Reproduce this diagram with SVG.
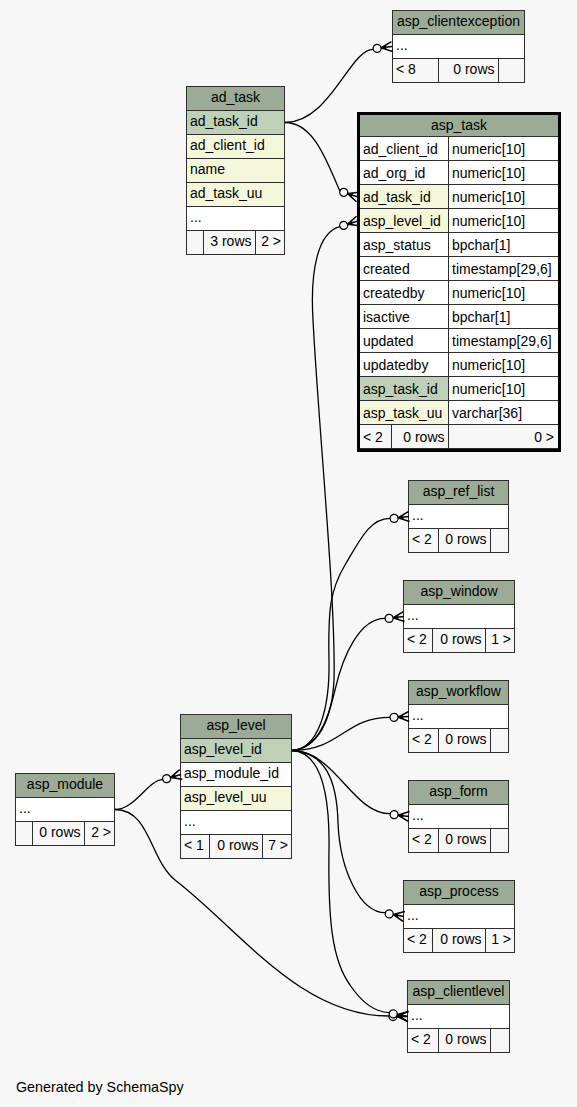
<svg xmlns="http://www.w3.org/2000/svg" width="577" height="1107" viewBox="0 0 577 1107">
<style>
text{font-family:"Liberation Sans",Arial,sans-serif;font-size:14px;fill:#000}
.c{text-anchor:middle}
.r{text-anchor:end}
rect{stroke:#2e2e2e;stroke-width:1}
.h{fill:#9bab96}
.pk{fill:#bed1b8}
.fk{fill:#f4f7da}
.w{fill:#ffffff}
.ft{fill:#f7f7f7}
.e{fill:none;stroke:#000;stroke-width:1.3}
</style>
<defs>
<g id="ah">
<path d="M0,-5 L-11,0 L0,5 M-11,0 L0,0" fill="none" stroke="#000" stroke-width="1.5"/>
<path d="M-11,0 L-5,-2.6 L-6.5,0 L-5,2.6 Z" fill="#000"/>
<circle cx="-15" cy="0" r="4" fill="#f7f7f7" stroke="#000" stroke-width="1.3"/>
</g>
</defs>
<rect x="0" y="0" width="577" height="1107" fill="#f7f7f7" style="stroke:none"/>

<g id="asp_clientexception">
<rect class="h" x="392.5" y="10.5" width="132" height="24"/>
<rect class="w" x="392.5" y="34.5" width="132" height="24"/>
<rect class="ft" x="392.5" y="58.5" width="46" height="24"/>
<rect class="ft" x="438.5" y="58.5" width="60" height="24"/>
<rect class="ft" x="498.5" y="58.5" width="26" height="24"/>
<text class="c" x="458.5" y="26">asp_clientexception</text>
<text x="396" y="50">...</text>
<text x="396" y="74">&lt; 8</text>
<text class="r" x="494.5" y="74">0 rows</text>
</g>

<g id="ad_task">
<rect class="h" x="186.5" y="86.5" width="98" height="24"/>
<rect class="pk" x="186.5" y="110.5" width="98" height="24"/>
<rect class="fk" x="186.5" y="134.5" width="98" height="24"/>
<rect class="fk" x="186.5" y="158.5" width="98" height="24"/>
<rect class="fk" x="186.5" y="182.5" width="98" height="24"/>
<rect class="w" x="186.5" y="206.5" width="98" height="24"/>
<rect class="ft" x="186.5" y="230.5" width="17" height="24"/>
<rect class="ft" x="203.5" y="230.5" width="52" height="24"/>
<rect class="ft" x="255.5" y="230.5" width="29" height="24"/>
<text class="c" x="235.5" y="102">ad_task</text>
<text x="190" y="126">ad_task_id</text>
<text x="190" y="150">ad_client_id</text>
<text x="190" y="174">name</text>
<text x="190" y="198">ad_task_uu</text>
<text x="190" y="222">...</text>
<text class="r" x="251.5" y="246">3 rows</text>
<text class="r" x="281" y="246">2 &gt;</text>
</g>

<g id="asp_task">
<rect class="h" x="359.5" y="113.5" width="199" height="23"/>
<rect class="w" x="359.5" y="136.5" width="89" height="24"/><rect class="w" x="448.5" y="136.5" width="110" height="24"/>
<rect class="w" x="359.5" y="160.5" width="89" height="24"/><rect class="w" x="448.5" y="160.5" width="110" height="24"/>
<rect class="fk" x="359.5" y="184.5" width="89" height="24"/><rect class="w" x="448.5" y="184.5" width="110" height="24"/>
<rect class="fk" x="359.5" y="208.5" width="89" height="24"/><rect class="w" x="448.5" y="208.5" width="110" height="24"/>
<rect class="w" x="359.5" y="232.5" width="89" height="24"/><rect class="w" x="448.5" y="232.5" width="110" height="24"/>
<rect class="w" x="359.5" y="256.5" width="89" height="24"/><rect class="w" x="448.5" y="256.5" width="110" height="24"/>
<rect class="w" x="359.5" y="280.5" width="89" height="24"/><rect class="w" x="448.5" y="280.5" width="110" height="24"/>
<rect class="w" x="359.5" y="304.5" width="89" height="24"/><rect class="w" x="448.5" y="304.5" width="110" height="24"/>
<rect class="w" x="359.5" y="328.5" width="89" height="24"/><rect class="w" x="448.5" y="328.5" width="110" height="24"/>
<rect class="w" x="359.5" y="352.5" width="89" height="24"/><rect class="w" x="448.5" y="352.5" width="110" height="24"/>
<rect class="pk" x="359.5" y="376.5" width="89" height="24"/><rect class="w" x="448.5" y="376.5" width="110" height="24"/>
<rect class="fk" x="359.5" y="400.5" width="89" height="24"/><rect class="w" x="448.5" y="400.5" width="110" height="24"/>
<rect class="ft" x="359.5" y="424.5" width="32" height="24"/>
<rect class="ft" x="391.5" y="424.5" width="57" height="24"/>
<rect class="ft" x="448.5" y="424.5" width="110" height="24"/>
<rect x="358.5" y="113.5" width="201" height="337" fill="none" style="stroke:#000;stroke-width:3"/>
<text class="c" x="459" y="130">asp_task</text>
<text x="363" y="153.5">ad_client_id</text><text x="452" y="153.5">numeric[10]</text>
<text x="363" y="177.5">ad_org_id</text><text x="452" y="177.5">numeric[10]</text>
<text x="363" y="201.5">ad_task_id</text><text x="452" y="201.5">numeric[10]</text>
<text x="363" y="225.5">asp_level_id</text><text x="452" y="225.5">numeric[10]</text>
<text x="363" y="249.5">asp_status</text><text x="452" y="249.5">bpchar[1]</text>
<text x="363" y="273.5">created</text><text x="452" y="273.5">timestamp[29,6]</text>
<text x="363" y="297.5">createdby</text><text x="452" y="297.5">numeric[10]</text>
<text x="363" y="321.5">isactive</text><text x="452" y="321.5">bpchar[1]</text>
<text x="363" y="345.5">updated</text><text x="452" y="345.5">timestamp[29,6]</text>
<text x="363" y="369.5">updatedby</text><text x="452" y="369.5">numeric[10]</text>
<text x="363" y="393.5">asp_task_id</text><text x="452" y="393.5">numeric[10]</text>
<text x="363" y="417.5">asp_task_uu</text><text x="452" y="417.5">varchar[36]</text>
<text x="363" y="441.5">&lt; 2</text>
<text class="r" x="444.5" y="441.5">0 rows</text>
<text class="r" x="554" y="441.5">0 &gt;</text>
</g>

<g id="asp_ref_list">
<rect class="h" x="408.5" y="480.5" width="100" height="24"/>
<rect class="w" x="408.5" y="504.5" width="100" height="24"/>
<rect class="ft" x="408.5" y="528.5" width="30" height="24"/>
<rect class="ft" x="438.5" y="528.5" width="52" height="24"/>
<rect class="ft" x="490.5" y="528.5" width="18" height="24"/>
<text class="c" x="458.5" y="496">asp_ref_list</text>
<text x="412" y="520">...</text>
<text x="412" y="544">&lt; 2</text>
<text class="r" x="486.5" y="544">0 rows</text>
</g>

<g id="asp_window">
<rect class="h" x="403.5" y="580.5" width="111" height="24"/>
<rect class="w" x="403.5" y="604.5" width="111" height="24"/>
<rect class="ft" x="403.5" y="628.5" width="29" height="24"/>
<rect class="ft" x="432.5" y="628.5" width="53" height="24"/>
<rect class="ft" x="485.5" y="628.5" width="29" height="24"/>
<text class="c" x="459" y="596">asp_window</text>
<text x="407" y="620">...</text>
<text x="407" y="644">&lt; 2</text>
<text class="r" x="481.5" y="644">0 rows</text>
<text class="r" x="511" y="644">1 &gt;</text>
</g>

<g id="asp_workflow">
<rect class="h" x="408.5" y="680.5" width="100" height="24"/>
<rect class="w" x="408.5" y="704.5" width="100" height="24"/>
<rect class="ft" x="408.5" y="728.5" width="30" height="24"/>
<rect class="ft" x="438.5" y="728.5" width="52" height="24"/>
<rect class="ft" x="490.5" y="728.5" width="18" height="24"/>
<text class="c" x="458.5" y="696">asp_workflow</text>
<text x="412" y="720">...</text>
<text x="412" y="744">&lt; 2</text>
<text class="r" x="486.5" y="744">0 rows</text>
</g>

<g id="asp_form">
<rect class="h" x="408.5" y="780.5" width="100" height="24"/>
<rect class="w" x="408.5" y="804.5" width="100" height="24"/>
<rect class="ft" x="408.5" y="828.5" width="30" height="24"/>
<rect class="ft" x="438.5" y="828.5" width="52" height="24"/>
<rect class="ft" x="490.5" y="828.5" width="18" height="24"/>
<text class="c" x="458.5" y="796">asp_form</text>
<text x="412" y="820">...</text>
<text x="412" y="844">&lt; 2</text>
<text class="r" x="486.5" y="844">0 rows</text>
</g>

<g id="asp_process">
<rect class="h" x="403.5" y="880.5" width="111" height="24"/>
<rect class="w" x="403.5" y="904.5" width="111" height="24"/>
<rect class="ft" x="403.5" y="928.5" width="29" height="24"/>
<rect class="ft" x="432.5" y="928.5" width="53" height="24"/>
<rect class="ft" x="485.5" y="928.5" width="29" height="24"/>
<text class="c" x="459" y="896">asp_process</text>
<text x="407" y="920">...</text>
<text x="407" y="944">&lt; 2</text>
<text class="r" x="481.5" y="944">0 rows</text>
<text class="r" x="511" y="944">1 &gt;</text>
</g>

<g id="asp_clientlevel">
<rect class="h" x="407.5" y="980.5" width="102" height="24"/>
<rect class="w" x="407.5" y="1004.5" width="102" height="24"/>
<rect class="ft" x="407.5" y="1028.5" width="31" height="24"/>
<rect class="ft" x="438.5" y="1028.5" width="52" height="24"/>
<rect class="ft" x="490.5" y="1028.5" width="19" height="24"/>
<text class="c" x="458.5" y="996">asp_clientlevel</text>
<text x="411" y="1020">...</text>
<text x="411" y="1044">&lt; 2</text>
<text class="r" x="486.5" y="1044">0 rows</text>
</g>

<g id="asp_level">
<rect class="h" x="180.5" y="714.5" width="111" height="24"/>
<rect class="pk" x="180.5" y="738.5" width="111" height="24"/>
<rect class="w" x="180.5" y="762.5" width="111" height="24"/>
<rect class="fk" x="180.5" y="786.5" width="111" height="24"/>
<rect class="w" x="180.5" y="810.5" width="111" height="24"/>
<rect class="ft" x="180.5" y="834.5" width="29" height="24"/>
<rect class="ft" x="209.5" y="834.5" width="53" height="24"/>
<rect class="ft" x="262.5" y="834.5" width="29" height="24"/>
<text class="c" x="236" y="730">asp_level</text>
<text x="184" y="754">asp_level_id</text>
<text x="184" y="778">asp_module_id</text>
<text x="184" y="802">asp_level_uu</text>
<text x="184" y="826">...</text>
<text x="184" y="850">&lt; 1</text>
<text class="r" x="258.5" y="850">0 rows</text>
<text class="r" x="288" y="850">7 &gt;</text>
</g>

<g id="asp_module">
<rect class="h" x="15.5" y="773.5" width="99" height="24"/>
<rect class="w" x="15.5" y="797.5" width="99" height="24"/>
<rect class="ft" x="15.5" y="821.5" width="17" height="24"/>
<rect class="ft" x="32.5" y="821.5" width="52" height="24"/>
<rect class="ft" x="84.5" y="821.5" width="30" height="24"/>
<text class="c" x="65" y="789">asp_module</text>
<text x="19" y="813">...</text>
<text class="r" x="80.5" y="837">0 rows</text>
<text class="r" x="111" y="837">2 &gt;</text>
</g>

<g id="connectors">
<path class="e" d="M285,122.5 C330,122.5 350,49 373.1,49.3"/>
<path class="e" d="M285,122.5 C315,122.5 328,165 339.9,191.1"/>
<path class="e" d="M292,750.5 C318,748 332,720 334,680 C336,600 318,420 313,320 C310,270 318,232 339.9,226.6"/>
<path class="e" d="M292,750.5 C318,749 330,710 329,660 C328,610 330,590 345,565 C360,540 370,518 390.1,518.3"/>
<path class="e" d="M292,750.5 C318,748 328,720 335,690 C343,655 360,618 385.1,618.3"/>
<path class="e" d="M292,750.5 C340,750.5 345,717.3 390,717.3"/>
<path class="e" d="M292,750.5 C335,750.5 352,813.7 390.1,813.7"/>
<path class="e" d="M292,750.5 C325,752 337,780 338,823 C340,870 360,912.7 385.3,912.7"/>
<path class="e" d="M292,750.5 C320,752 330,790 329,850 C328,920 332,960 350,985 C362,1003 375,1012 389.3,1012.7"/>
<path class="e" d="M115,809.5 C135,809.5 148,780 162.8,779.7"/>
<path class="e" d="M115,809.5 C150,809.5 150,860 175,880 C240,930 300,1016 389,1016"/>
<use href="#ah" transform="translate(392,46.5) rotate(-7)"/>
<use href="#ah" transform="translate(358,197) rotate(18)"/>
<use href="#ah" transform="translate(358,221) rotate(-17)"/>
<use href="#ah" transform="translate(409,516.5) rotate(-7)"/>
<use href="#ah" transform="translate(404,616.5) rotate(-7)"/>
<use href="#ah" transform="translate(409,716.5) rotate(-3)"/>
<use href="#ah" transform="translate(409,816.5) rotate(7)"/>
<use href="#ah" transform="translate(404,916.5) rotate(10)"/>
<use href="#ah" transform="translate(408,1016.5) rotate(0)"/>
<use href="#ah" transform="translate(408,1016.5) rotate(10)"/>
<use href="#ah" transform="translate(181,774.5) rotate(-16)"/>
</g>

<text x="16" y="1092" style="font-size:14.3px">Generated by SchemaSpy</text>
</svg>
